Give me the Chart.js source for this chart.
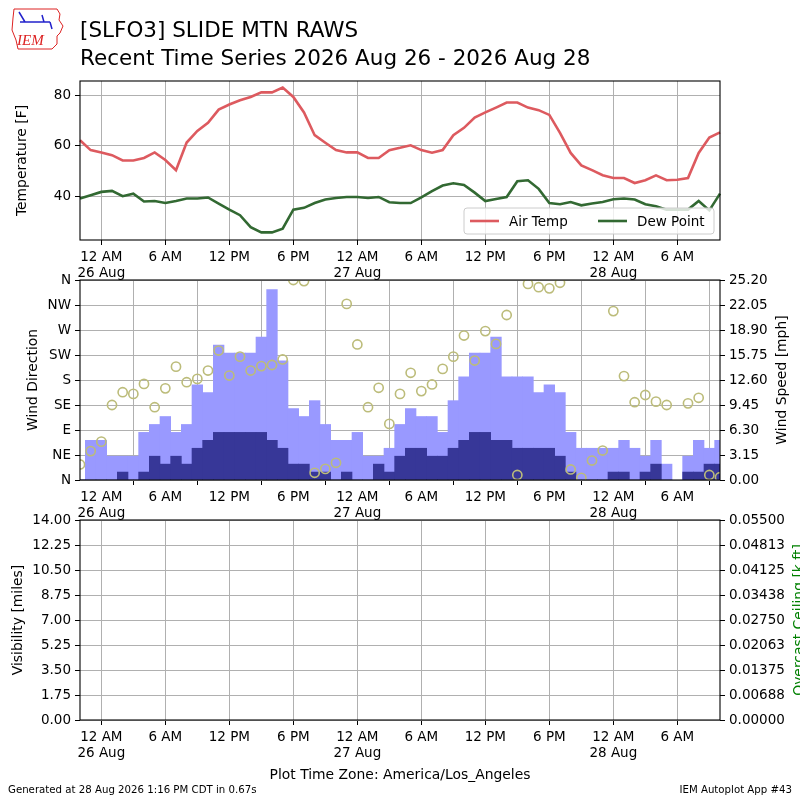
<!DOCTYPE html>
<html><head><meta charset="utf-8">
<script src="https://cdn.jsdelivr.net/npm/chart.js@4/dist/chart.umd.min.js"></script>
<style>
html,body{margin:0;padding:0;background:#fff;}
#wrap{position:relative;width:800px;height:800px;overflow:hidden;}
canvas{position:absolute;left:0;top:0;}
</style></head><body><div id="wrap">
<canvas id="c1" width="800" height="800"></canvas>
<canvas id="c2" width="800" height="800"></canvas>
<canvas id="c3" width="800" height="800"></canvas>
</div>
<script>
// ---------------- DATA ----------------
// hourly observation times, 2026-08-25 22:00 .. 2026-08-28 10:00 (America/Los_Angeles)
const TIMES = [];
(function(){const days=['25','26','27','28'];for(let i=0;i<=60;i++){const t=22+i;TIMES.push('2026-08-'+days[Math.floor(t/24)]+' '+String(t%24).padStart(2,'0')+':00');}})();

const AIR_TEMP = [62.2,58.3,57.4,56.3,54.2,54.2,55.2,57.4,54.4,50.4,61.3,65.9,69.1,74.3,76.3,78.0,79.3,81.1,81.1,83.0,
  79.3,73.2,64.2,61.2,58.3,57.4,57.4,55.2,55.2,58.3,59.2,60.2,58.3,57.3,58.3,64.2,67.1,71.2,73.2,75.1,
  77.1,77.1,75.1,74.1,72.2,65.1,57.2,52.3,50.4,48.4,47.3,47.3,45.3,46.4,48.3,46.4,46.6,47.3,57.2,63.3,65.3];
const DEW_POINT = [39.2,40.5,41.8,42.2,40.1,41.1,38.0,38.2,37.4,38.2,39.2,39.2,39.6,37.2,34.8,32.6,27.9,25.8,25.8,27.3,
  34.8,35.5,37.4,38.8,39.4,39.8,39.8,39.4,39.8,37.7,37.4,37.4,39.6,42.1,44.3,45.2,44.5,41.5,38.2,39.0,
  39.8,46.0,46.4,43.0,37.4,36.9,37.8,36.5,37.2,37.8,38.9,39.2,38.8,36.9,36.1,34.8,34.8,34.8,38.2,34.5,41.1];
const WIND_GUST = [0,5,5,3,3,3,6,7,8,6,7,12,11,17,16,16,16,18,24,15,
  9,8,10,7,5,5,6,3,3,4,7,9,8,8,6,10,13,16,16,18,
  13,13,13,11,12,11,6,4,4,4,4,5,4,3,5,2,null,3,5,4,5];
const WIND_SPEED = [0,0,0,0,1,0,1,3,2,3,2,4,5,6,6,6,6,6,5,4,
  2,2,1,1,0,1,0,0,2,1,3,4,4,3,3,4,5,6,6,5,
  5,4,4,4,4,3,1,0,0,0,1,1,0,1,2,0,null,1,1,2,2];
const WIND_DIR = [28,52,69,135,158,155,173,131,165,204,176,182,197,233,188,222,197,205,207,217,
  360,358,13,20,31,317,244,131,166,101,155,193,160,172,200,222,260,215,268,245,
  297,9,353,347,345,355,19,4,35,53,304,187,140,153,141,135,null,138,148,9,5];

const TICK_POS = [2,8,14,20,26,32,38,44,50,56];
const TICK_LABELS = [['12 AM','26 Aug'],'6 AM','12 PM','6 PM',['12 AM','27 Aug'],'6 AM','12 PM','6 PM',['12 AM','28 Aug'],'6 AM'];
const TEMP_TICKS = [40,60,80];
const DIR_TICKS = [0,45,90,135,180,225,270,315,360];
const DIR_LABELS = ['N','NE','E','SE','S','SW','W','NW','N'];
const SPEED_TICKS = [0,3.15,6.3,9.45,12.6,15.75,18.9,22.05,25.2];
const VIS_TICKS = [0,1.75,3.5,5.25,7,8.75,10.5,12.25,14];
const CEIL_TICKS = [0,0.006875,0.01375,0.020625,0.0275,0.034375,0.04125,0.048125,0.055];
const CEIL_LABELS = ['0.00000','0.00688','0.01375','0.02063','0.02750','0.03438','0.04125','0.04813','0.05500'];

// ---------------- STYLE ----------------
const FONT = 'DejaVu Sans';
const TICK_FONT = {family:FONT,size:13.5};
const GRID = '#b0b0b0';
Chart.defaults.font.family = FONT;
Chart.defaults.color = '#000';
Chart.defaults.animation = false;

function xScale(z){
  return {
    type:'category', offset:false, z:z||0,
    grid:{color:GRID,lineWidth:1,tickColor:'#000',tickLength:5,drawTicks:true},
    border:{display:false},
    ticks:{autoSkip:false,maxRotation:0,minRotation:0,padding:4,color:'#000',font:TICK_FONT,
      callback:(v)=>{const k=TICK_POS.indexOf(v);return k<0?'':TICK_LABELS[k];}},
    afterBuildTicks:(s)=>{s.ticks=TICK_POS.map(v=>({value:v}));},
    afterFit:(s)=>{s.height=40;}
  };
}
function yScale(pos,min,max,ticksArr,labelFn,grid,z){
  return {
    type:'linear', position:pos, min:min, max:max, z:z||0,
    grid:{color:GRID,lineWidth:1,tickColor:'#000',tickLength:5,drawTicks:true,drawOnChartArea:grid},
    border:{display:false},
    ticks:{padding:4,color:'#000',font:TICK_FONT,callback:labelFn},
    afterBuildTicks:(s)=>{s.ticks=ticksArr.map(v=>({value:v}));},
    afterFit:(s)=>{s.width=80;}
  };
}

const txtPlugin = {
  id:'txt',
  afterDraw(chart,args,opts){
    const ctx=chart.ctx, a=chart.chartArea;
    ctx.save();
    ctx.strokeStyle='#000';ctx.lineWidth=1.1;
    ctx.strokeRect(a.left,a.top,a.right-a.left,a.bottom-a.top);
    (opts.items||[]).forEach(it=>{
      ctx.save();ctx.font=it.font;ctx.fillStyle=it.color||'#000';
      ctx.textAlign=it.align||'left';ctx.textBaseline=it.base||'alphabetic';
      ctx.translate(it.x,it.y);if(it.rot)ctx.rotate(it.rot);ctx.fillText(it.t,0,0);ctx.restore();
    });
    if(opts.legend){
      const L=opts.legend;
      ctx.fillStyle='rgba(255,255,255,0.8)';ctx.strokeStyle='#cccccc';ctx.lineWidth=1;
      ctx.beginPath();ctx.roundRect(L.x,L.y,L.w,L.h,3);ctx.fill();ctx.stroke();
      const ds=chart.data.datasets;const cy=L.y+L.h/2;
      const xs=[L.x+6,L.x+134];
      ds.forEach((d,i)=>{
        ctx.strokeStyle=d.borderColor;ctx.lineWidth=2.6;ctx.beginPath();
        ctx.moveTo(xs[i],cy);ctx.lineTo(xs[i]+29,cy);ctx.stroke();
        ctx.fillStyle='#000';ctx.font='13.5px '+FONT;ctx.textBaseline='middle';ctx.textAlign='left';
        ctx.fillText(d.label,xs[i]+39,cy+1);
      });
    }
    if(opts.logo){
      ctx.strokeStyle='#d22';ctx.lineWidth=1;ctx.beginPath();
      ctx.moveTo(14,9);ctx.lineTo(57,9);ctx.lineTo(60,14);ctx.lineTo(59,20);ctx.lineTo(63,26);ctx.lineTo(60,33);
      ctx.lineTo(57,36);ctx.lineTo(57,44);ctx.lineTo(52,49);ctx.lineTo(18,49);ctx.lineTo(16,40);ctx.lineTo(12,30);ctx.lineTo(13,18);ctx.closePath();ctx.stroke();
      ctx.strokeStyle='#22c';ctx.lineWidth=1.5;ctx.beginPath();
      ctx.moveTo(20,22);ctx.lineTo(50,22);ctx.moveTo(25,22);ctx.lineTo(19,12);ctx.moveTo(44,22);ctx.lineTo(42,15);ctx.moveTo(50,22);ctx.lineTo(52,29);ctx.stroke();
      ctx.fillStyle='#d22';ctx.font='italic 15px "Liberation Serif"';ctx.textAlign='left';ctx.textBaseline='alphabetic';
      ctx.fillText('IEM',17,45);
    }
    ctx.restore();
  }
};

// ---------------- CHART 1: temperature ----------------
new Chart(document.getElementById('c1'),{
  type:'line',
  data:{labels:TIMES,datasets:[
    {label:'Air Temp',data:AIR_TEMP,borderColor:'rgb(221,90,95)',borderWidth:2.6,pointRadius:0,tension:0,fill:false},
    {label:'Dew Point',data:DEW_POINT,borderColor:'rgb(50,105,50)',borderWidth:2.6,pointRadius:0,tension:0,fill:false}
  ]},
  options:{
    responsive:false,animation:false,events:[],
    layout:{padding:{left:0,right:80,top:81,bottom:520}},
    scales:{x:xScale(),y:yScale('left',22.8,85.6,TEMP_TICKS,(v)=>String(v),true)},
    plugins:{legend:{display:false},tooltip:{enabled:false},
      txt:{logo:true,legend:{x:464,y:208,w:250,h:26},items:[
        {t:'[SLFO3] SLIDE MTN RAWS',x:80,y:37,font:'21.5px '+FONT},
        {t:'Recent Time Series 2026 Aug 26 - 2026 Aug 28',x:80,y:65,font:'21.5px '+FONT},
        {t:'Temperature [F]',x:22,y:160.5,rot:-Math.PI/2,align:'center',base:'middle',font:'13.9px '+FONT},
        {t:'Plot Time Zone: America/Los_Angeles',x:400,y:779,align:'center',font:'13.9px '+FONT},
        {t:'Generated at 28 Aug 2026 1:16 PM CDT in 0.67s',x:8,y:793,font:'10.2px '+FONT},
        {t:'IEM Autoplot App #43',x:792,y:793,align:'right',font:'10.2px '+FONT}
      ]}}
  },
  plugins:[txtPlugin]
});

// ---------------- CHART 2: wind ----------------
new Chart(document.getElementById('c2'),{
  type:'bar',
  data:{labels:TIMES,datasets:[
    {type:'line',label:'Wind Direction',data:WIND_DIR,yAxisID:'y',showLine:false,pointRadius:4.6,pointBorderWidth:1.6,
     pointBorderColor:'rgb(188,188,122)',pointBackgroundColor:'rgba(0,0,0,0)',borderColor:'rgb(188,188,122)',clip:0},
    {label:'Wind Speed',data:WIND_SPEED,yAxisID:'y2',backgroundColor:'rgb(55,55,152)',borderWidth:0,barPercentage:1,categoryPercentage:1,grouped:false},
    {label:'Wind Gust',data:WIND_GUST,yAxisID:'y2',backgroundColor:'rgb(153,153,255)',borderWidth:0,barPercentage:1,categoryPercentage:1,grouped:false}
  ]},
  options:{
    responsive:false,animation:false,events:[],
    layout:{padding:{left:0,right:0,top:280,bottom:280}},
    scales:{
      x:xScale(1),
      y:yScale('left',0,360,DIR_TICKS,(v)=>DIR_LABELS[DIR_TICKS.indexOf(v)],true,1),
      y2:yScale('right',0,25.2,SPEED_TICKS,(v)=>v.toFixed(2),false,1)
    },
    plugins:{legend:{display:false},tooltip:{enabled:false},
      txt:{items:[
        {t:'Wind Direction',x:33,y:380,rot:-Math.PI/2,align:'center',base:'middle',font:'13.9px '+FONT},
        {t:'Wind Speed [mph]',x:782,y:380,rot:-Math.PI/2,align:'center',base:'middle',font:'13.9px '+FONT}
      ]}}
  },
  plugins:[txtPlugin]
});

// ---------------- CHART 3: visibility / ceiling ----------------
new Chart(document.getElementById('c3'),{
  type:'line',
  data:{labels:TIMES,datasets:[
    {label:'Visibility',data:[],yAxisID:'y',borderColor:'#000',pointRadius:0},
    {label:'Overcast Ceiling',data:[],yAxisID:'y2',borderColor:'green',pointRadius:0}
  ]},
  options:{
    responsive:false,animation:false,events:[],
    layout:{padding:{left:0,right:0,top:520,bottom:40}},
    scales:{
      x:xScale(),
      y:yScale('left',0,14,VIS_TICKS,(v)=>v.toFixed(2),true),
      y2:yScale('right',0,0.055,CEIL_TICKS,(v)=>CEIL_LABELS[CEIL_TICKS.indexOf(v)],false)
    },
    plugins:{legend:{display:false},tooltip:{enabled:false},
      txt:{items:[
        {t:'Visibility [miles]',x:18,y:620,rot:-Math.PI/2,align:'center',base:'middle',font:'13.9px '+FONT},
        {t:'Overcast Ceiling [k ft]',x:799,y:620,rot:-Math.PI/2,align:'center',base:'middle',color:'#008000',font:'13.9px '+FONT}
      ]}}
  },
  plugins:[txtPlugin]
});
</script>
</body></html>
